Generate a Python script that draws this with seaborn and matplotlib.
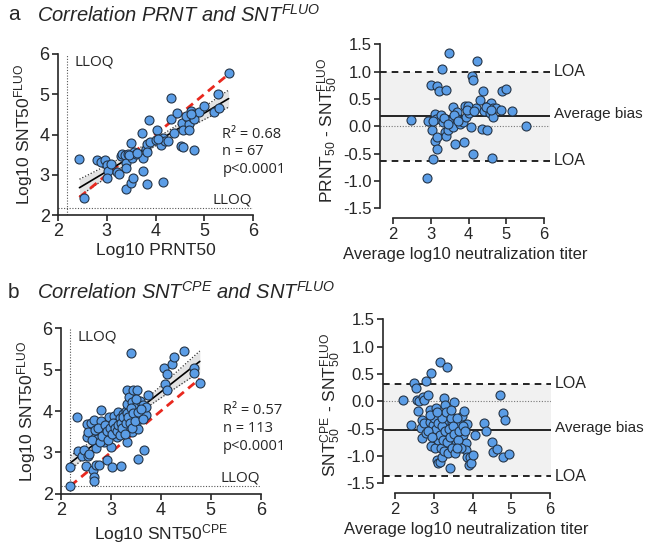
import numpy as np
import pandas as pd
import seaborn as sns
import matplotlib.pyplot as plt

# ---- panel a: PRNT vs SNT FLUO (correlation) ----
prnt_a = [2.44, 2.53, 2.79, 2.88, 2.96, 3.00, 3.03, 3.00, 3.08, 3.22, 3.25, 3.29, 3.32, 3.37,
          3.39, 3.39, 3.39, 3.44, 3.49, 3.50, 3.54, 3.52, 3.55, 3.60, 3.73, 3.74, 3.75, 3.81,
          3.82, 3.83, 3.82, 3.86, 3.89, 4.01, 4.04, 4.12, 4.15, 4.15, 4.20, 4.32, 4.32, 4.37,
          4.45, 4.52, 4.55, 4.57, 4.57, 4.66, 4.68, 4.69, 4.73, 4.75, 4.76, 4.80, 4.80, 4.89,
          4.99, 5.20, 5.29, 5.31, 5.50, 3.45, 3.62, 4.05, 4.25, 4.62, 4.72]
fluo_a = [3.39, 2.42, 3.37, 3.32, 3.37, 3.25, 3.10, 2.92, 3.27, 3.06, 3.02, 3.47, 3.52, 3.50,
          3.29, 3.17, 2.65, 3.52, 3.80, 2.79, 2.91, 3.42, 3.57, 3.52, 4.04, 3.42, 3.09, 3.65,
          3.77, 3.57, 2.77, 4.37, 3.81, 3.87, 4.10, 3.73, 3.91, 2.82, 3.83, 4.91, 4.39, 4.04,
          4.53, 3.71, 4.29, 4.12, 3.68, 4.41, 4.27, 4.10, 4.58, 4.44, 4.50, 4.39, 3.62, 4.56,
          4.71, 4.56, 5.00, 4.65, 5.53, 3.48, 3.55, 3.90, 3.85, 4.45, 4.52]

# ---- panel a: Bland-Altman ----
ba_mean_a = [2.46, 2.90, 3.00, 2.93, 3.04, 3.06, 3.11, 3.11, 3.15, 3.13, 3.15, 3.17, 3.22, 3.28,
             3.27, 3.33, 3.40, 3.37, 3.40, 3.46, 3.49, 3.50, 3.58, 3.55, 3.58, 3.64, 3.68, 3.70,
             3.77, 3.84, 3.87, 3.89, 3.93, 3.99, 4.02, 4.05, 4.08, 4.11, 4.11, 4.19, 4.21, 4.30,
             4.35, 4.37, 4.41, 4.48, 4.52, 4.57, 4.58, 4.61, 4.64, 4.65, 4.73, 4.85, 4.88, 4.99,
             5.14, 5.51, 3.35, 3.45, 3.62, 3.72, 3.95, 4.15, 4.45, 4.60, 3.05]
ba_diff_a = [0.12, -0.95, 0.75, 0.09, -0.07, -0.59, 0.22, -0.26, 0.73, 0.14, -0.20, -0.41, 0.65, 1.05,
             0.20, 0.08, 0.67, -0.10, -0.18, -0.07, 1.34, 0.06, 0.35, 0.11, -0.01, -0.32, 0.26, 0.14,
             0.04, 0.08, -0.29, 0.38, 0.17, 0.38, 0.24, -0.01, 0.93, 0.84, -0.50, 0.34, 1.19, 0.48,
             -0.04, 0.64, 0.29, -0.06, 0.37, 0.24, 0.43, -0.57, 0.34, 0.18, 0.34, 0.30, 0.65, 0.69,
             0.29, 0.00, 0.15, 0.05, 0.20, 0.10, 0.30, 0.28, 0.35, 0.30, 0.10]
bias_a = 0.19
loa_a = [-0.63, 1.00]

# ---- panel b: SNT CPE vs SNT FLUO (correlation) ----
cpe_b = [2.19, 2.19, 2.33, 2.35, 2.43, 2.47, 2.51, 2.53, 2.53, 2.55, 2.57, 2.61, 2.65, 2.67,
         2.66, 2.66, 2.61, 2.73, 2.71, 2.70, 2.77, 2.80, 2.80, 2.85, 2.86, 2.86, 2.87, 2.90,
         2.93, 2.96, 2.97, 3.00, 3.03, 3.05, 3.06, 3.10, 3.13, 3.15, 3.18, 3.22, 3.20, 3.25,
         3.26, 3.28, 3.27, 3.30, 3.32, 3.33, 3.33, 3.35, 3.37, 3.37, 3.40, 3.40, 3.42, 3.43,
         3.45, 3.46, 3.48, 3.50, 3.52, 3.53, 3.54, 3.54, 3.57, 3.58, 3.64, 3.66, 3.70, 3.70,
         3.75, 4.07, 4.08, 4.12, 4.12, 4.22, 4.27, 4.46, 4.67, 4.67, 4.78,
         2.55, 2.62, 2.68, 2.75, 2.78, 2.82, 2.88, 2.92, 2.95, 2.98, 3.02, 3.05, 3.08, 3.12,
         3.15, 3.18, 3.20, 3.23, 3.25, 3.28, 3.30, 3.32, 3.35, 3.38, 3.40, 3.42, 3.45, 3.48,
         3.50, 3.55, 3.60, 3.65]
fluo_b = [2.19, 2.64, 3.85, 3.04, 2.91, 3.06, 2.68, 3.68, 3.36, 2.90, 2.95, 3.72, 2.57, 2.41,
          2.31, 3.78, 3.46, 3.32, 3.11, 2.69, 2.69, 3.77, 4.03, 3.50, 3.62, 3.26, 3.46, 3.38,
          2.81, 3.74, 3.86, 3.12, 2.65, 3.56, 3.88, 3.70, 3.38, 3.97, 3.82, 3.48, 2.67, 3.92,
          3.77, 3.66, 3.56, 4.00, 4.51, 4.16, 3.26, 3.62, 3.80, 4.35, 5.40, 3.98, 4.21, 3.50,
          4.51, 3.90, 4.10, 3.70, 4.51, 3.82, 2.85, 3.56, 3.86, 4.24, 4.15, 3.06, 3.90, 4.10,
          4.39, 5.03, 4.65, 4.51, 4.89, 5.13, 5.31, 5.45, 5.03, 4.91, 4.67,
          3.50, 3.30, 3.55, 3.60, 3.25, 3.40, 3.65, 3.52, 3.30, 3.60, 3.45, 3.72, 3.60, 3.52,
          3.65, 3.42, 3.72, 3.60, 3.85, 3.45, 3.72, 3.95, 3.85, 3.70, 4.08, 3.60, 3.95, 3.75,
          4.30, 3.98, 4.05, 3.80]

# ---- panel b: Bland-Altman ----
ba_mean_b = [2.20, 2.40, 2.49, 2.53, 2.56, 2.58, 2.63, 2.67, 2.69, 2.69, 2.71, 2.75, 2.75, 2.80,
             2.81, 2.86, 2.90, 2.90, 2.93, 2.94, 2.99, 3.03, 3.03, 3.05, 3.07, 3.10, 3.11, 3.16,
             3.17, 3.20, 3.22, 3.24, 3.27, 3.27, 3.28, 3.28, 3.28, 3.31, 3.33, 3.35, 3.33, 3.37,
             3.39, 3.41, 3.43, 3.44, 3.46, 3.48, 3.50, 3.52, 3.52, 3.54, 3.57, 3.58, 3.61, 3.65,
             3.69, 3.71, 3.74, 3.76, 3.78, 3.82, 3.84, 3.86, 3.87, 3.90, 3.94, 3.97, 4.01, 4.06,
             4.30, 4.34, 4.51, 4.54, 4.62, 4.72, 4.78, 4.78, 4.84, 4.95,
             3.00, 3.05, 3.10, 3.12, 3.15, 3.18, 3.20, 3.22, 3.25, 3.27, 3.30, 3.32, 3.35, 3.37,
             3.40, 3.42, 3.45, 3.47, 3.50, 3.53, 3.55, 3.60, 3.62, 3.66, 3.70, 3.75, 3.80, 2.85,
             2.95, 2.90, 3.08, 3.60, 3.44]
ba_diff_b = [0.03, -0.44, 0.34, 0.24, 0.03, -0.18, 0.01, -0.49, -0.34, -0.67, 0.08, 0.03, -0.40, -0.58,
             0.38, 0.12, -0.15, -0.37, 0.51, -0.82, -0.43, -0.85, -0.61, -0.12, -1.07, -1.13, -0.52, -1.11,
             0.72, -0.76, -1.01, -0.55, -0.24, 0.07, -0.06, -0.37, -0.67, -0.79, -0.49, 0.63, -0.91, -0.37,
             -0.61, -1.22, -0.27, -0.46, -0.73, -0.37, -0.85, -0.01, -0.55, -0.67, -0.34, -0.76, -0.49, -0.40,
             -0.73, -0.58, -0.27, -0.61, -0.18, -0.76, -0.88, -0.41, -1.01, -1.17, -1.02, -1.12, -0.98, -0.61,
             -0.40, -0.55, -0.75, -0.93, -0.87, 0.12, -0.21, -1.01, -0.34, -0.96,
             -0.30, -0.50, -0.70, -0.40, -0.62, -0.85, -0.45, -0.30, -0.70, -0.90, -0.55, -0.20, -0.75, -0.95,
             -0.50, -0.65, -0.30, -0.85, -0.45, -0.60, -0.95, -0.30, -0.70, -0.55, -0.85, -0.45, -0.55, -0.55,
             -0.65, -0.25, -0.20, -0.85, -0.15]
bias_b = -0.52
loa_b = [-1.37, 0.32]

LLOQ = 2.18
W, H = 646, 552
PT_COLOR = '#5b9de6'
EDGE = '#243447'
FONT = 'Liberation Sans'
ANNOT_FONT = 'Open Sans'

sns.set_style('ticks')
plt.rcParams['font.family'] = [FONT, 'DejaVu Sans']
plt.rcParams['mathtext.fontset'] = 'custom'
plt.rcParams['mathtext.rm'] = FONT
plt.rcParams['mathtext.it'] = FONT + ':italic'
plt.rcParams['axes.unicode_minus'] = False
plt.rcParams['axes.linewidth'] = 1.2
plt.rcParams['xtick.major.width'] = 1.2
plt.rcParams['ytick.major.width'] = 1.2
plt.rcParams['xtick.major.size'] = 4
plt.rcParams['ytick.major.size'] = 4

fig = plt.figure(figsize=(W / 100, H / 100), dpi=100)


def px_axes(l, t, r, b):
    return fig.add_axes([l / W, 1 - b / H, (r - l) / W, (b - t) / H])


def corr_panel(ax, x, y, xlabel, ylabel, stats, stats_x):
    df = pd.DataFrame({'x': x, 'y': y})
    xs = np.linspace(df.x.min(), df.x.max(), 100)
    # 95% CI band of the linear fit
    slope, icpt = np.polyfit(df.x, df.y, 1)
    resid = df.y - (slope * df.x + icpt)
    n = len(df)
    s = np.sqrt((resid ** 2).sum() / (n - 2))
    se = s * np.sqrt(1 / n + (xs - df.x.mean()) ** 2 / ((df.x - df.x.mean()) ** 2).sum())
    fit = slope * xs + icpt
    ax.fill_between(xs, fit - 1.99 * se, fit + 1.99 * se, color='#e3e3e3', lw=0, zorder=1)
    ax.plot(xs, fit - 1.99 * se, color='#333333', ls=(0, (1, 1.5)), lw=0.9, zorder=2)
    ax.plot(xs, fit + 1.99 * se, color='#333333', ls=(0, (1, 1.5)), lw=0.9, zorder=2)
    sns.regplot(data=df, x='x', y='y', ax=ax, scatter=False, ci=None, truncate=True,
                line_kws={'color': 'black', 'lw': 1.2, 'zorder': 3})
    # line of identity
    ax.plot([df.x.min(), df.x.max()], [df.x.min(), df.x.max()], color='#e8281e',
            ls=(0, (3, 2)), lw=2.0, zorder=2.5)
    sns.scatterplot(data=df, x='x', y='y', ax=ax, color=PT_COLOR, edgecolor=EDGE,
                    linewidth=0.8, s=42, zorder=4)
    ax.axvline(LLOQ, color='#555555', ls=(0, (1, 1.5)), lw=0.8, zorder=0)
    ax.axhline(LLOQ, color='#555555', ls=(0, (1, 1.5)), lw=0.8, zorder=0)
    ax.text(2.33, 5.8, 'LLOQ', fontsize=11, family=ANNOT_FONT, va='center')
    ax.text(5.98, 2.37, 'LLOQ', fontsize=11, family=ANNOT_FONT, va='center', ha='right')
    for i, t in enumerate(stats):
        ax.text(stats_x, 4.0 - i * 0.43, t, fontsize=10.5, family=ANNOT_FONT, va='center')
    ax.set_xlim(2, 6)
    ax.set_ylim(2, 6)
    ax.set_xticks([2, 3, 4, 5, 6])
    ax.set_yticks([2, 3, 4, 5, 6])
    ax.tick_params(labelsize=13, pad=2)
    ax.set_xlabel(xlabel, fontsize=12.5, labelpad=2)
    ax.set_ylabel(ylabel, fontsize=12.5, labelpad=3)
    sns.despine(ax=ax)


def ba_panel(ax, m, d, bias, loa, ylabel, xmin, xmax):
    df = pd.DataFrame({'m': m, 'd': d})
    ax.axhspan(loa[0], loa[1], color='#f1f1f1', lw=0, zorder=0)
    for v in loa:
        ax.axhline(v, color='black', ls=(0, (4, 3)), lw=1.2, zorder=1)
        ax.text(xmax + 0.1, v, 'LOA', fontsize=11.5, va='center', ha='left')
    ax.axhline(bias, color='black', lw=1.2, zorder=1)
    ax.text(xmax + 0.12, bias + 0.04, 'Average bias', fontsize=11, va='center', ha='left')
    ax.axhline(0, color='#777777', ls=(0, (1, 1.5)), lw=0.8, zorder=1)
    sns.scatterplot(data=df, x='m', y='d', ax=ax, color=PT_COLOR, edgecolor=EDGE,
                    linewidth=0.8, s=42, zorder=4, clip_on=False)
    ax.set_xlim(xmin, xmax)
    ax.set_ylim(-1.68, 1.55)
    ax.set_xticks([2, 3, 4, 5, 6])
    yt = [-1.5, -1.0, -0.5, 0.0, 0.5, 1.0, 1.5]
    ax.set_yticks(yt)
    ax.set_yticklabels([f'{v:.1f}' for v in yt])
    ax.spines['left'].set_bounds(-1.5, 1.5)
    ax.spines['bottom'].set_bounds(2, 6)
    ax.tick_params(labelsize=12, pad=2)
    ax.set_xlabel('Average log10 neutralization titer', fontsize=12, labelpad=4)
    ax.set_ylabel(ylabel, fontsize=12.5, labelpad=2)
    sns.despine(ax=ax)


# panel a
ax1 = px_axes(58, 54, 253, 215)
corr_panel(ax1, prnt_a, fluo_a, 'Log10 PRNT50', r'Log10 SNT50$^{\mathregular{FLUO}}$',
           ['R² = 0.68', 'n = 67', 'p<0.0001'], 5.37)
ax2 = px_axes(380, 41.6, 549.7, 218.3)
ba_panel(ax2, ba_mean_a, ba_diff_a, bias_a, loa_a,
         r'PRNT$_{\mathregular{50}}$ - SNT$_{\mathregular{50}}^{\mathregular{FLUO}}$', 1.647, 6.15)

# panel b
ax3 = px_axes(61, 328.3, 260.7, 493.7)
corr_panel(ax3, cpe_b, fluo_b, r'Log10 SNT50$^{\mathregular{CPE}}$', r'Log10 SNT50$^{\mathregular{FLUO}}$',
           ['R² = 0.57', 'n = 113', 'p<0.0001'], 5.24)
ax4 = px_axes(382.7, 316.6, 550.7, 493.3)
ba_panel(ax4, ba_mean_b, ba_diff_b, bias_b, loa_b,
         r'SNT$_{\mathregular{50}}^{\mathregular{CPE}}$ - SNT$_{\mathregular{50}}^{\mathregular{FLUO}}$', 1.68, 6.02)

# panel headings
fig.text(8 / W, 1 - 15 / H, 'a', fontsize=15, va='center')
fig.text(37 / W, 1 - 15 / H, r'Correlation PRNT and SNT$^{FLUO}$', fontsize=14.5, style='italic', va='center')
fig.text(8 / W, 1 - 292 / H, 'b', fontsize=15, va='center')
fig.text(37 / W, 1 - 292 / H, r'Correlation SNT$^{CPE}$ and SNT$^{FLUO}$', fontsize=14.5, style='italic', va='center')

fig.savefig('out.png', dpi=100)
